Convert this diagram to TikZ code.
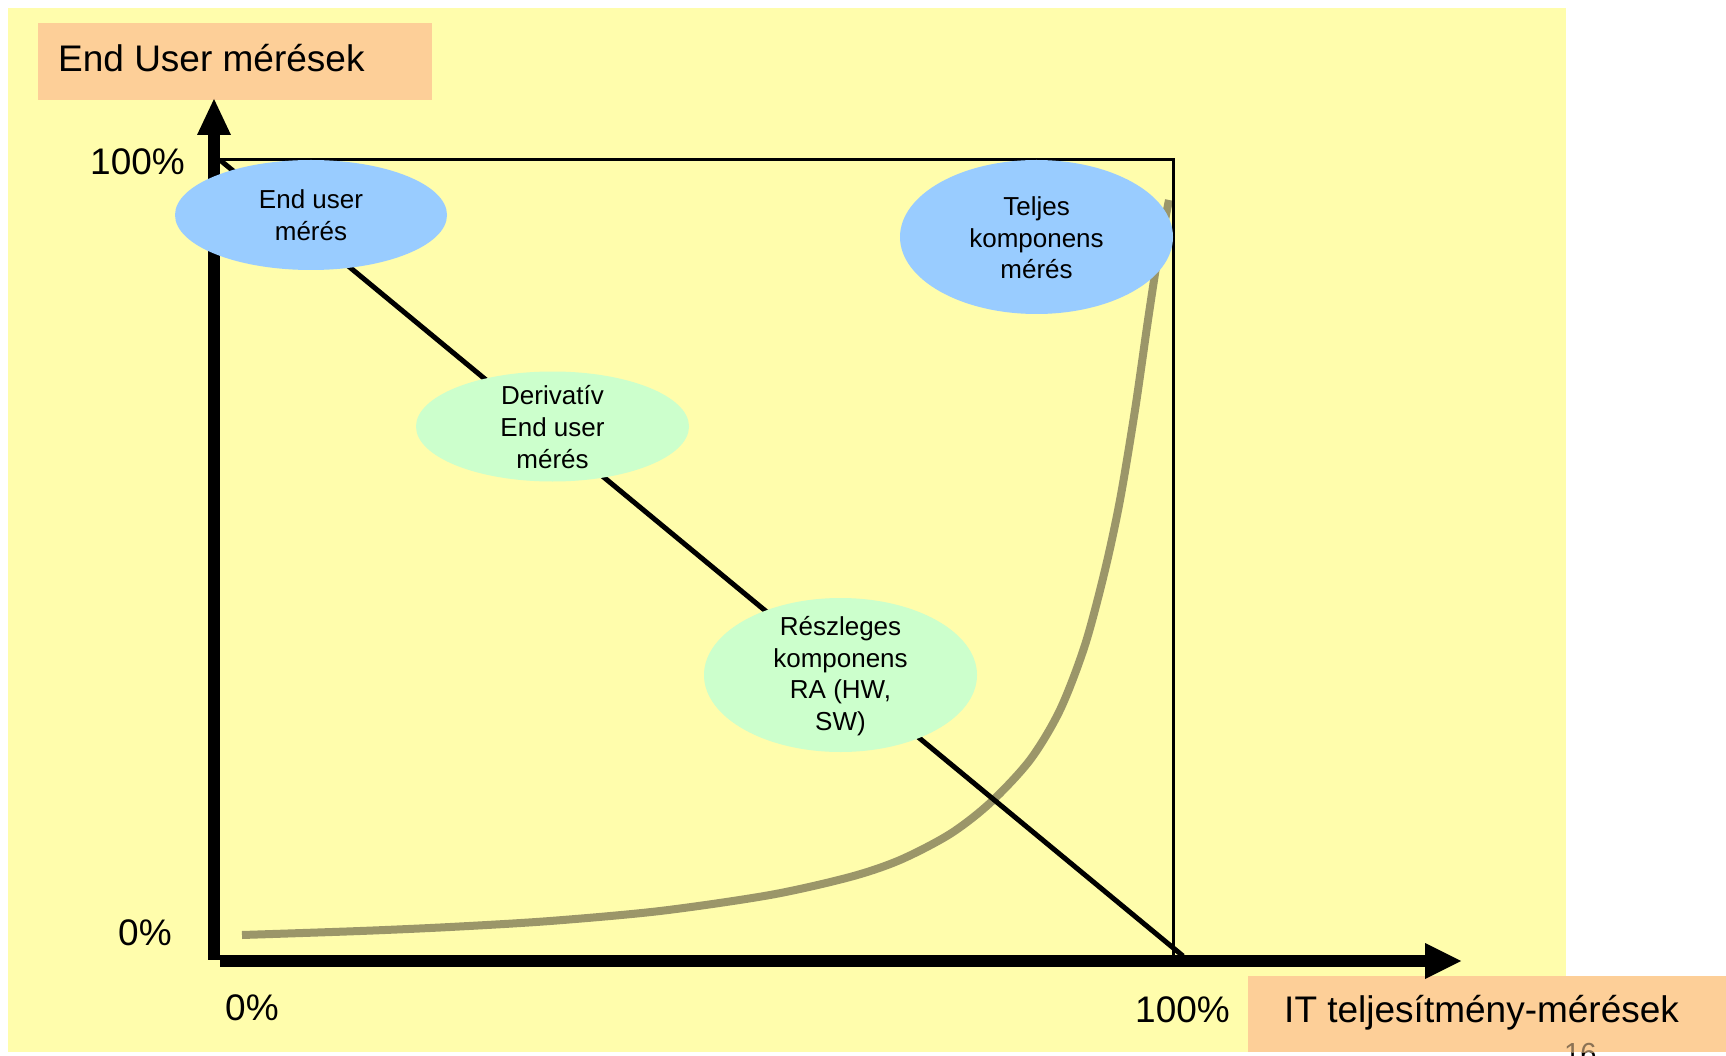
\documentclass[tikz,border=0pt]{standalone}
\usepackage{fontspec}
\setmainfont{Liberation Sans}
\definecolor{bgyellow}{RGB}{255,253,172}
\definecolor{labelorange}{RGB}{253,207,152}
\definecolor{eblue}{RGB}{153,204,255}
\definecolor{egreen}{RGB}{204,255,204}
\definecolor{curvegray}{RGB}{155,150,105}

\begin{document}
\begin{tikzpicture}[x=1pt,y=-1pt,
  big/.style={font=\fontsize{37}{44}\selectfont, inner sep=0pt, anchor=base west},
  bubble/.style={font=\fontsize{26}{31.7}\selectfont, align=center, inner sep=0pt},
  frameline/.style={line width=3pt},
  axisfill/.style={fill=black},
]
\useasboundingbox (0,0) rectangle (1726,1056);
\fill[white] (0,0) rectangle (1726,1056);
\fill[bgyellow] (8,8) rectangle (1566,1052);

% page number, partly under the label box
\begin{scope}
  \clip (1500,1052) rectangle (1726,1100);
  \node[font=\fontsize{29}{34}\selectfont, inner sep=0pt, anchor=base west] (pagenum) at (1564,1063) {16};
\end{scope}

% axis caption boxes
\fill[labelorange] (38,23) rectangle (432,100);
\fill[labelorange] (1248,976) rectangle (1726,1052);
\begin{scope}
  \clip (1248,976) rectangle (1726,1052);
  \node[font=\fontsize{29}{34}\selectfont, inner sep=0pt, anchor=base west, text=black!45!labelorange] at (1564,1063) {16};
\end{scope}

% key points
\coordinate (tl) at (220,160);
\coordinate (tr) at (1173,160);
\coordinate (br) at (1173,958);
\coordinate (dend) at (1183,956);

% growth curve
\draw[curvegray, line width=8pt, smooth, tension=0.5]
  plot coordinates {(242,935) (360,931) (450,927) (550,921) (660,911) (770,895)
    (850,877) (900,860) (950,834) (990,803) (1030,760) (1060,710) (1085,645)
    (1105,570) (1120,500) (1135,410) (1148,320) (1158,255) (1165,220) (1169,200)};

% frame and diagonal
\draw[frameline] (tl) -- (tr) -- (br);
\draw[line width=5pt] (tl) -- (dend);

% axes
\fill[axisfill] (208,135) rectangle (220,960);
\fill[axisfill] (197,135) -- (214,99) -- (231,135) -- cycle;
\fill[axisfill] (220,955) rectangle (1425,967);
\fill[axisfill] (1425,943) -- (1461,961) -- (1425,979) -- cycle;

% bubbles
\fill[eblue] (311,215) ellipse [x radius=136pt, y radius=55pt];
\fill[eblue] (1036.5,237) ellipse [x radius=136.5pt, y radius=77pt];
\fill[egreen] (552.5,426.5) ellipse [x radius=136.5pt, y radius=55pt];
\fill[egreen] (840.5,675) ellipse [x radius=136.5pt, y radius=77pt];

\node[bubble] (eu) at (311,215) {End user\\mérés};
\node[bubble] (teljes) at (1036.5,238) {Teljes\\komponens\\mérés};
\node[bubble] (deriv) at (552.5,427) {Derivatív\\End user\\mérés};
\node[bubble] (reszl) at (840.5,676) {Részleges\\komponens\\RA (HW,\\SW)};

% labels
\node[big] (ytitle) at (58,72) {End User mérések};
\node[big] (xtitle) at (1284,1022) {IT teljesítmény-mérések};
\node[big] (y100) at (90,175) {100\%};
\node[big] (y0) at (118,945) {0\%};
\node[big] (x0) at (225,1020) {0\%};
\node[big] (x100) at (1135,1022) {100\%};
\end{tikzpicture}
\end{document}
